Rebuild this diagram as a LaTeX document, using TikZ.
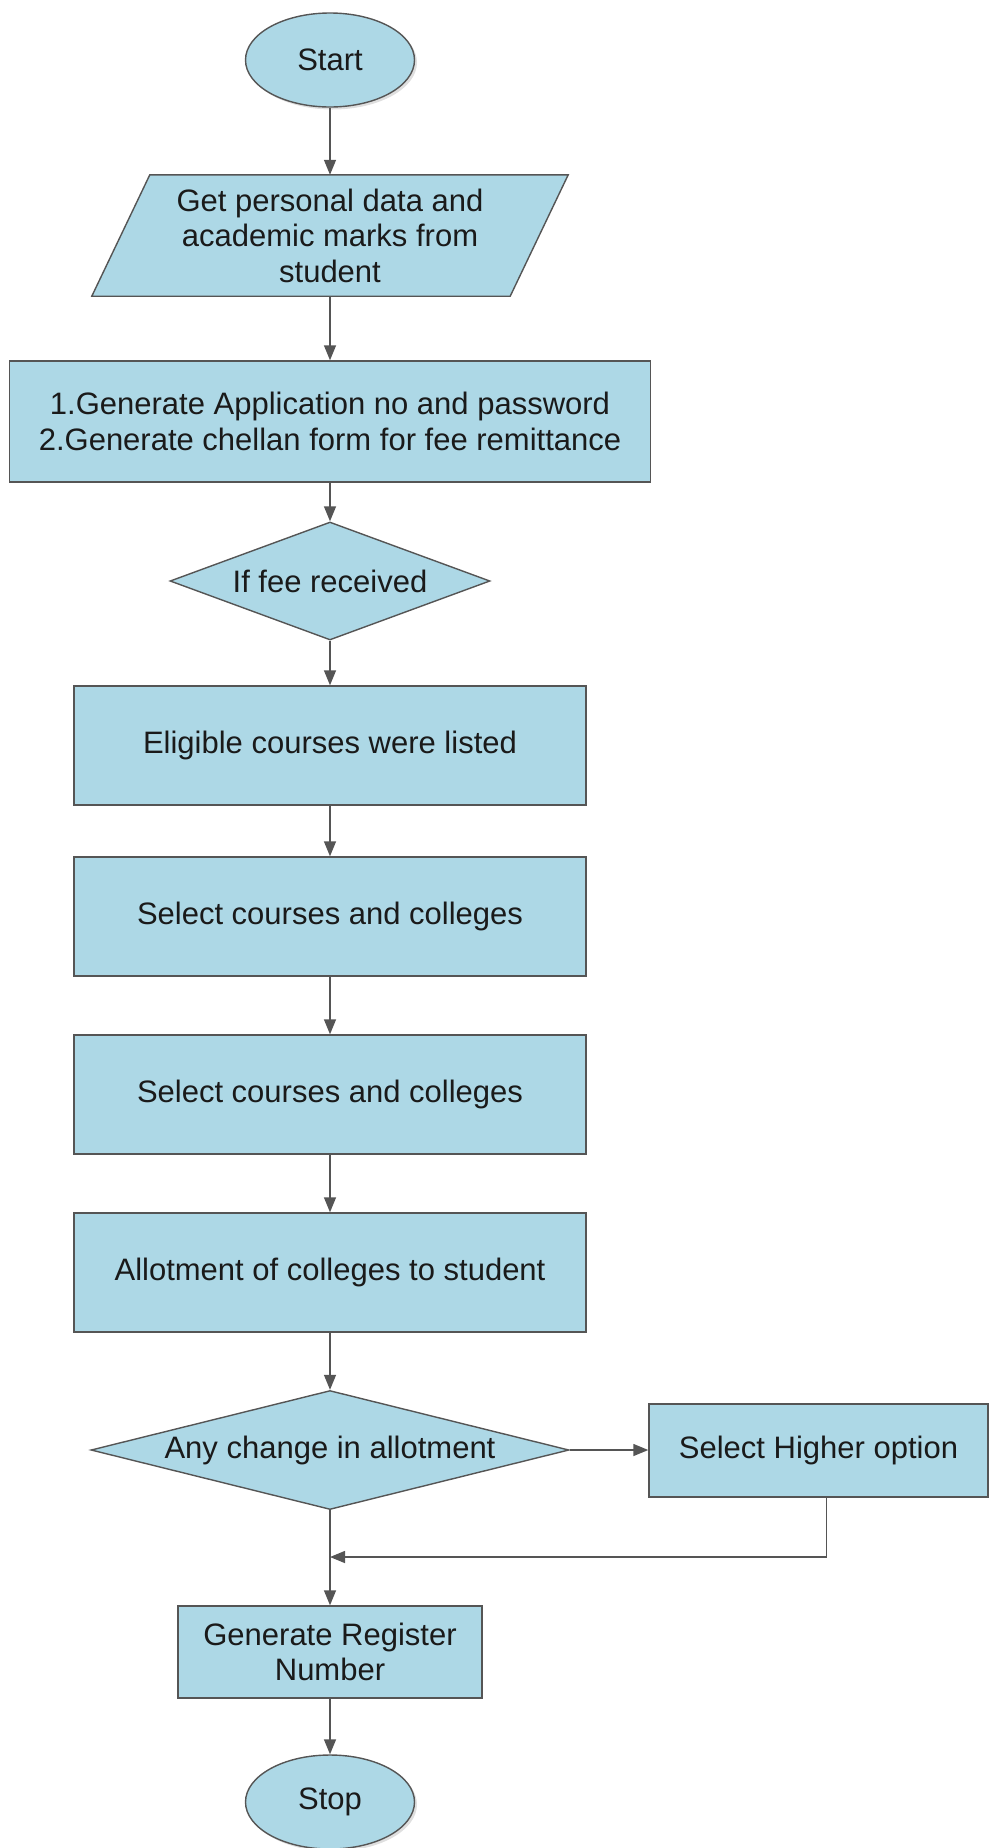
\documentclass[tikz,border=0pt]{standalone}
\usepackage{fontspec}
\setmainfont{Liberation Sans}
\usetikzlibrary{shapes.geometric,arrows.meta,shadows,backgrounds}
\definecolor{boxfill}{HTML}{ADD8E6}
\definecolor{edge}{HTML}{555555}
\definecolor{ink}{HTML}{1A1A1A}
\begin{document}
\begin{tikzpicture}[x=1pt,y=-1pt,
  every node/.style={font=\fontsize{31}{35.5}\selectfont, text=ink, align=center, inner sep=0pt},
  shapebase/.style={draw=edge, line width=1.4pt, fill=boxfill},
  terminal/.style={shapebase, ellipse, minimum width=169pt, minimum height=94pt,
    drop shadow={shadow xshift=2.5pt, shadow yshift=-2.5pt, opacity=0.25, fill=gray}},
  process/.style={shapebase, rectangle},
  decision/.style={shapebase, diamond},
  flow/.style={draw=edge, line width=1.4pt, -{Triangle[length=15pt,width=12pt]}},
]
\useasboundingbox (0,0) rectangle (991,1848);

% terminals, steps and decisions
\node[terminal] (start) at (330,60) {Start};
\node[minimum width=418pt, minimum height=121pt] (input) at (330,235.5)
  {Get personal data and\\academic marks from\\student};
\node[process, minimum width=641pt, minimum height=121pt] (gen) at (330,421.5)
  {1.Generate Application no and password\\2.Generate chellan form for fee remittance};
\node[decision, minimum width=320pt, minimum height=118pt, shape aspect=2.7] (fee) at (330,581)
  {If fee received};
\node[process, minimum width=512pt, minimum height=119pt] (elig) at (330,745.5)
  {Eligible courses were listed};
\node[process, minimum width=512pt, minimum height=119pt] (sel1) at (330,916.5)
  {Select courses and colleges};
\node[process, minimum width=512pt, minimum height=119pt] (sel2) at (330,1094.5)
  {Select courses and colleges};
\node[process, minimum width=512pt, minimum height=119pt] (allot) at (330,1272.5)
  {Allotment of colleges to student};
\node[decision, minimum width=478pt, minimum height=119pt, shape aspect=4] (chg) at (330,1450)
  {Any change in allotment};
\node[process, minimum width=339pt, minimum height=93pt] (higher) at (818.5,1450.5)
  {Select Higher option};
\node[process, minimum width=304pt, minimum height=92pt] (reg) at (330,1652)
  {Generate Register\\Number};
\node[terminal] (stop) at (330,1802) {Stop};

% input parallelogram behind its text
\begin{scope}[on background layer]
  \path[shapebase] ([xshift=29pt]input.north west) -- ([xshift=29pt]input.north east)
    -- ([xshift=-29pt]input.south east) -- ([xshift=-29pt]input.south west) -- cycle;
\end{scope}

% connectors
\coordinate (merge) at (330,1557);
\draw[flow] (start) -- (input.north);
\draw[flow] (input.south) -- (gen);
\draw[flow] (gen) -- (fee);
\draw[flow] (fee) -- (elig);
\draw[flow] (elig) -- (sel1);
\draw[flow] (sel1) -- (sel2);
\draw[flow] (sel2) -- (allot);
\draw[flow] (allot) -- (chg);
\draw[flow] (chg.east) -- (chg.east -| higher.west);
\draw[flow] (chg) -- (reg);
\draw[flow] ([xshift=8pt]higher.south) |- (merge);
\draw[flow] (reg) -- (stop);
\end{tikzpicture}
\end{document}
